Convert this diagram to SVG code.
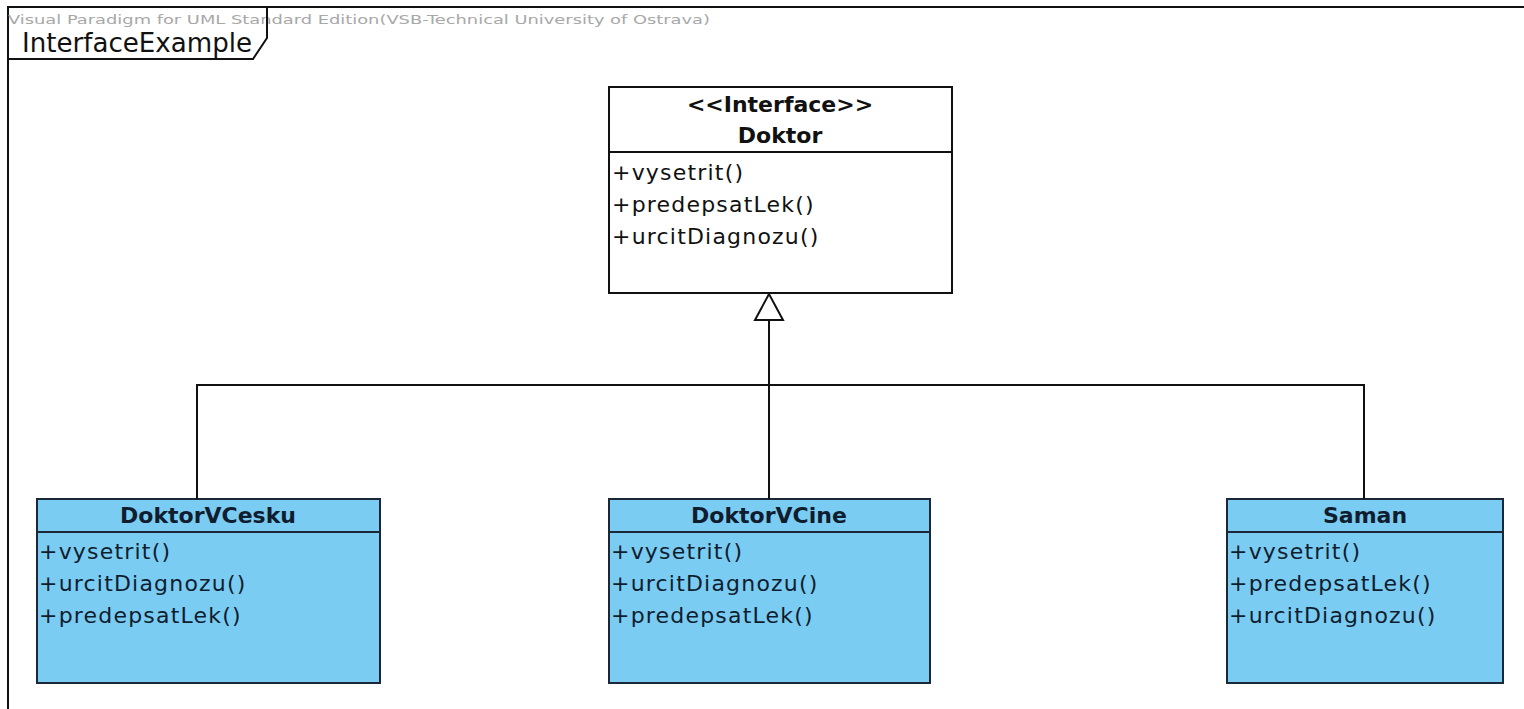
<svg xmlns="http://www.w3.org/2000/svg" width="1524" height="709" viewBox="0 0 1524 709">
<style>
.frame{fill:none;stroke:#111;stroke-width:2}
.wm{font-family:"DejaVu Sans",sans-serif;font-size:13px;fill:#a8a8a8}
.title{font-family:"DejaVu Sans",sans-serif;font-size:26px;fill:#111}
.iface{fill:#fff;stroke:#111;stroke-width:2}
.cls{fill:#7accf2;stroke:#1b2837;stroke-width:2}
.hd{font-family:"DejaVu Sans",sans-serif;font-size:22px;font-weight:bold;text-anchor:middle;fill:#111}
.op{font-family:"DejaVu Sans",sans-serif;font-size:22px;letter-spacing:1.2px;fill:#111}
.cls-t{fill:#0f1d2e}
.conn{fill:none;stroke:#111;stroke-width:2}
</style>
<rect width="1524" height="709" fill="#fff"/>
<g id="frame">
<path class="frame" d="M8,709 V7 H1524"/>
<text class="wm" x="8" y="24" textLength="702" lengthAdjust="spacingAndGlyphs">Visual Paradigm for UML Standard Edition(VSB-Technical University of Ostrava)</text>
<path class="frame" d="M8,59 H253 L267,38 V7"/>
<text class="title" x="22" y="52" textLength="230" lengthAdjust="spacingAndGlyphs">InterfaceExample</text>
</g>
<g id="Doktor">
<rect class="iface" x="609" y="87" width="343" height="206"/>
<line class="iface" x1="609" y1="152" x2="952" y2="152"/>
<text class="hd" x="780" y="112">&lt;&lt;Interface&gt;&gt;</text>
<text class="hd" x="780" y="143">Doktor</text>
<text class="op" x="612" y="180">+vysetrit()</text>
<text class="op" x="612" y="212">+predepsatLek()</text>
<text class="op" x="612" y="244">+urcitDiagnozu()</text>
</g>
<g id="DoktorVCesku">
<rect class="cls" x="37" y="499" width="343" height="184"/>
<line class="cls" x1="37" y1="532" x2="380" y2="532"/>
<text class="hd cls-t" x="208" y="523">DoktorVCesku</text>
<text class="op cls-t" x="39" y="559">+vysetrit()</text>
<text class="op cls-t" x="39" y="591">+urcitDiagnozu()</text>
<text class="op cls-t" x="39" y="623">+predepsatLek()</text>
</g>
<g id="DoktorVCine">
<rect class="cls" x="609" y="499" width="321" height="184"/>
<line class="cls" x1="609" y1="532" x2="930" y2="532"/>
<text class="hd cls-t" x="769" y="523">DoktorVCine</text>
<text class="op cls-t" x="611" y="559">+vysetrit()</text>
<text class="op cls-t" x="611" y="591">+urcitDiagnozu()</text>
<text class="op cls-t" x="611" y="623">+predepsatLek()</text>
</g>
<g id="Saman">
<rect class="cls" x="1227" y="499" width="276" height="184"/>
<line class="cls" x1="1227" y1="532" x2="1503" y2="532"/>
<text class="hd cls-t" x="1365" y="523">Saman</text>
<text class="op cls-t" x="1229" y="559">+vysetrit()</text>
<text class="op cls-t" x="1229" y="591">+predepsatLek()</text>
<text class="op cls-t" x="1229" y="623">+urcitDiagnozu()</text>
</g>
<g id="connectors">
<path class="conn" d="M769,499 V320"/>
<path class="conn" d="M197,499 V385 H1364 V499"/>
<path class="conn" style="fill:#fff" d="M769,294 L755,320 H783 Z"/>
</g>
</svg>
